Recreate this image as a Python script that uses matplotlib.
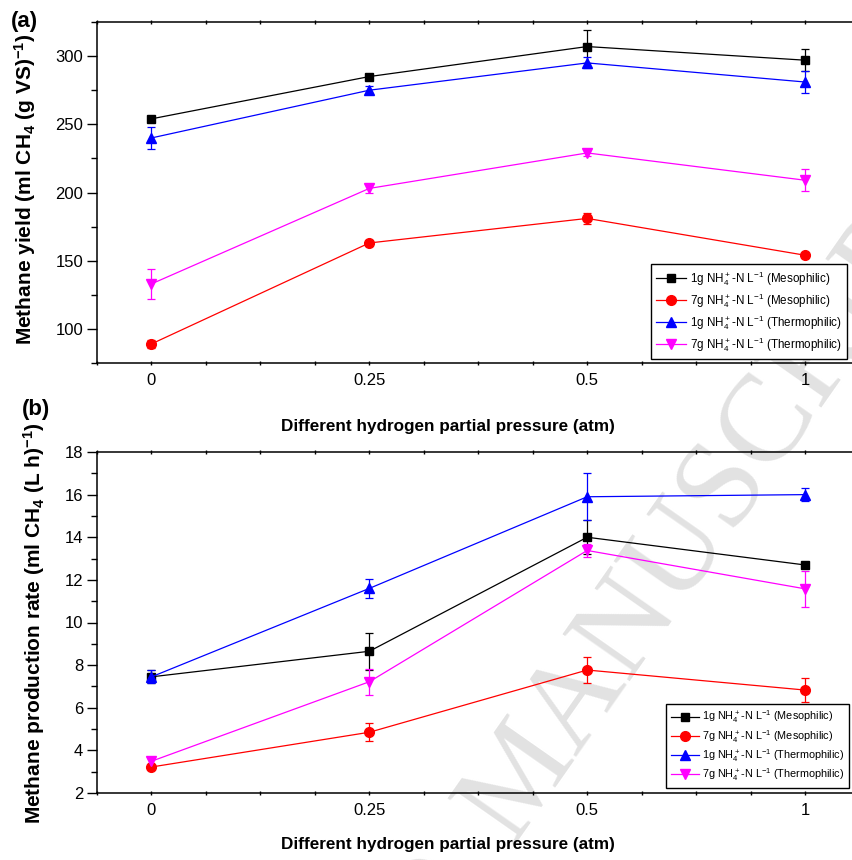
import numpy as np
import matplotlib
matplotlib.use("Agg")
import matplotlib.pyplot as plt
from matplotlib.ticker import MultipleLocator

plt.rcParams['font.family'] = ['Liberation Sans', 'DejaVu Sans']
plt.rcParams['mathtext.default'] = 'regular'

# hydrogen partial pressure (atm), plotted as categories
pressure_labels = ['0', '0.25', '0.5', '1']

# (a) methane yield, ml CH4 (g VS)-1
yield_meso_1g = [254, 285, 307, 297]
yield_meso_1g_err = [1.5, 1.5, 12, 8]
yield_meso_7g = [89, 163, 181, 154]
yield_meso_7g_err = [3, 2, 4, 2]
yield_thermo_1g = [240, 275, 295, 281]
yield_thermo_1g_err = [8, 3, 4, 8]
yield_thermo_7g = [133, 203, 229, 209]
yield_thermo_7g_err = [11, 3, 2, 8]

# (b) methane production rate, ml CH4 (L h)-1
rate_meso_1g = [7.45, 8.65, 14.0, 12.7]
rate_meso_1g_err = [0.3, 0.87, 0.8, 0.15]
rate_meso_7g = [3.22, 4.85, 7.77, 6.83]
rate_meso_7g_err = [0.1, 0.42, 0.6, 0.57]
rate_thermo_1g = [7.45, 11.6, 15.9, 16.0]
rate_thermo_1g_err = [0.3, 0.45, 1.1, 0.3]
rate_thermo_7g = [3.49, 7.22, 13.38, 11.58]
rate_thermo_7g_err = [0.15, 0.6, 0.3, 0.85]

series_labels = [r'1g NH$_4^+$-N L$^{-1}$ (Mesophilic)',
                 r'7g NH$_4^+$-N L$^{-1}$ (Mesophilic)',
                 r'1g NH$_4^+$-N L$^{-1}$ (Thermophilic)',
                 r'7g NH$_4^+$-N L$^{-1}$ (Thermophilic)']
colors = ['#000000', '#ff0000', '#0000ff', '#ff00ff']
markers = ['s', 'o', '^', 'v']
msizes = [6, 7, 7.5, 7.5]

fig = plt.figure(figsize=(8.53, 8.60), dpi=100)

# watermark behind everything
fig.text(512/853, 1 - 845/860, 'MANUSCRIPT', rotation=55, rotation_mode='anchor',
         ha='left', va='baseline', fontsize=90, family='Liberation Serif',
         color='#e2e2e2', zorder=-1)
fig.text(500/853, 1 - 862/860, 'ACCEPTED ', rotation=55, rotation_mode='anchor',
         ha='right', va='baseline', fontsize=90, family='Liberation Serif',
         color='#e2e2e2', zorder=-1)


def draw_panel(ax, values, errors, ylim, ymajor, yminor, legend_anchor, legsize, legspace):
    x = np.arange(len(pressure_labels))
    for i in range(4):
        ax.errorbar(x, values[i], yerr=errors[i], fmt='none', ecolor=colors[i],
                    elinewidth=0.9, capsize=3, capthick=0.9, zorder=2)
        ax.plot(x, values[i], color=colors[i], marker=markers[i], ms=msizes[i],
                lw=0.9, label=series_labels[i], zorder=3)
    ax.set_xlim(-0.25, 3.22)
    ax.set_ylim(*ylim)
    ax.set_xticks(x)
    ax.set_xticklabels(pressure_labels)
    ax.xaxis.set_minor_locator(MultipleLocator(0.25))
    ax.yaxis.set_major_locator(MultipleLocator(ymajor))
    ax.yaxis.set_minor_locator(MultipleLocator(yminor))
    ax.tick_params(axis='y', which='major', direction='out', length=7, width=1, labelsize=12, pad=3)
    ax.tick_params(axis='y', which='minor', direction='out', length=4, width=1)
    ax.tick_params(axis='x', which='both', direction='inout', length=3, width=1,
                   top=True, labelsize=12, pad=6)
    ax.spines['right'].set_visible(False)
    for s in ['left', 'top', 'bottom']:
        ax.spines[s].set_linewidth(1.1)
    ax.patch.set_alpha(0)
    leg = ax.legend(loc='lower right', bbox_to_anchor=legend_anchor, borderaxespad=0,
                    fancybox=False, edgecolor='black', framealpha=1, handlelength=2.6,
                    handletextpad=0.3, labelspacing=legspace, borderpad=0.45,
                    prop={'size': legsize})
    leg.get_frame().set_linewidth(1.0)


ax1 = fig.add_axes([97/853, 1 - 363/860, 1 - 97/853, (363 - 22)/860])
draw_panel(ax1,
           [yield_meso_1g, yield_meso_7g, yield_thermo_1g, yield_thermo_7g],
           [yield_meso_1g_err, yield_meso_7g_err, yield_thermo_1g_err, yield_thermo_7g_err],
           (75, 325), 50, 25, (0.992, 0.012), 8.4, 0.28)

ax2 = fig.add_axes([97/853, 1 - 793/860, 1 - 97/853, (793 - 452)/860])
draw_panel(ax2,
           [rate_meso_1g, rate_meso_7g, rate_thermo_1g, rate_thermo_7g],
           [rate_meso_1g_err, rate_meso_7g_err, rate_thermo_1g_err, rate_thermo_7g_err],
           (2, 18), 2, 1, (0.995, 0.015), 7.8, 0.22)

# labels as figure text so they sit where the original has them
fig.text(25/853, 1 - 189/860, r'Methane yield (ml CH$_4$ (g VS)$^{-1}$)', rotation=90,
         ha='center', va='center', fontsize=15, fontweight='bold')
fig.text(34/853, 1 - 623/860, r'Methane production rate (ml CH$_4$ (L h)$^{-1}$)', rotation=90,
         ha='center', va='center', fontsize=15, fontweight='bold')
fig.text(448/853, 1 - 426/860, 'Different hydrogen partial pressure (atm)',
         ha='center', va='center', fontsize=12.3, fontweight='bold')
fig.text(448/853, 1 - 845/860, 'Different hydrogen partial pressure (atm)',
         ha='center', va='center', fontsize=12.3, fontweight='bold')
fig.text(24/853, 1 - 22/860, '(a)', ha='center', va='center', fontsize=16, fontweight='bold')
fig.text(36/853, 1 - 410/860, '(b)', ha='center', va='center', fontsize=16, fontweight='bold')

fig.savefig('out.png', dpi=100)
